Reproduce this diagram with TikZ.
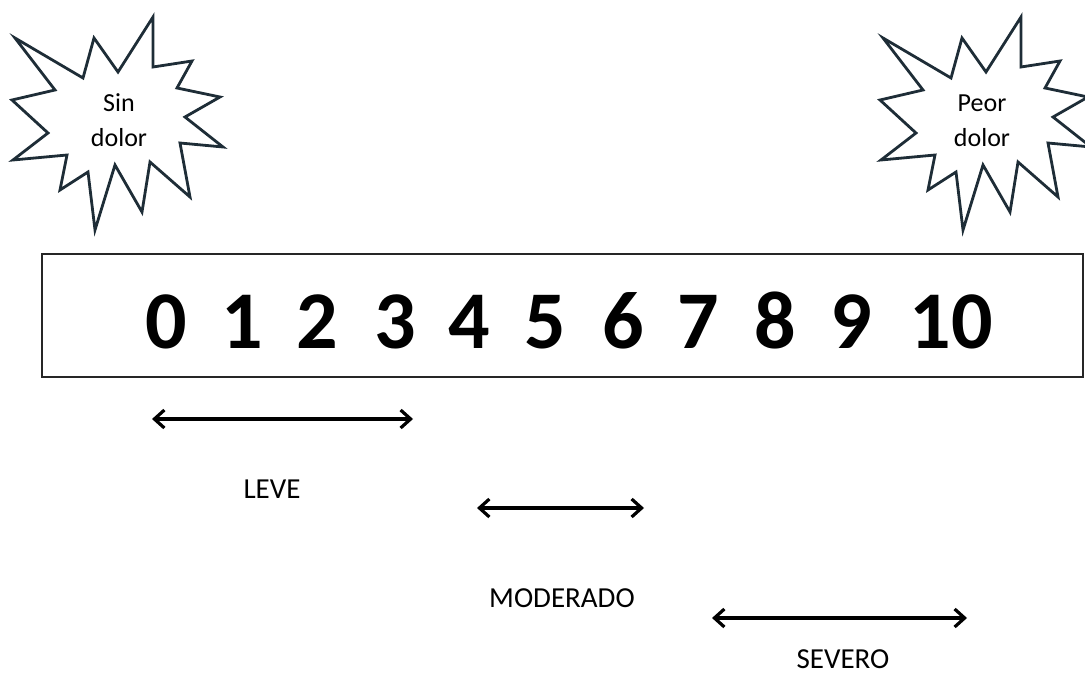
\documentclass[tikz,border=0pt]{standalone}
\usepackage{fontspec}
\setmainfont{Carlito}
\usetikzlibrary{arrows.meta}
\definecolor{starink}{RGB}{30,45,55}

\begin{document}
\begin{tikzpicture}[
    x=0.5pt, y=-0.5pt,
    starline/.style={starink, line width=1.4pt, line join=miter},
    scalebox/.style={black!85, line width=1.2pt},
    digit/.style={font=\fontsize{41}{41}\selectfont\bfseries, anchor=base, inner sep=0pt},
    startext/.style={font=\fontsize{13}{17.5}\selectfont, align=center, anchor=base, inner sep=0pt},
    lbl/.style={font=\fontsize{14.5}{14.5}\selectfont, anchor=base, inner sep=0pt},
    spanarrow/.style={black, line width=1.6pt, {Straight Barb[length=5pt,width=9pt]}-{Straight Barb[length=5pt,width=9pt]}}
]
\useasboundingbox (0,0) rectangle (1085,684);

% ---------- stars ----------
\foreach \sx in {0,868}
  \draw[starline, shift={(\sx,0)}] (15,38) -- (83,78) -- (94,38) -- (118,72) -- (153,17)
    -- (153,67) -- (192,61) -- (177,88) -- (220,97) -- (185,117) -- (223,147)
    -- (180,143) -- (190,197) -- (150,162) -- (142,212) -- (115,165) -- (95,230)
    -- (88,172) -- (60,190) -- (67,155) -- (13,160) -- (48,133) -- (12,100)
    -- (55,90) -- cycle;
\node[startext] (sin) at (119,147) {Sin\\dolor};
\node[startext] (peor) at (982,147) {Peor\\dolor};

% ---------- scale box ----------
\draw[scalebox] (42,254) rectangle (1083,377);
\foreach \n/\x in {0/166,1/242,2/317,3/395,4/469,5/545,6/623,7/698,8/775,9/851,10/951}
  \node[digit] (d\n) at (\x,348) {\n};

% ---------- ranges ----------
\coordinate (leveA) at (152,419);
\coordinate (leveB) at (413,419);
\coordinate (modA) at (477,508);
\coordinate (modB) at (644,508);
\coordinate (sevA) at (712,618);
\coordinate (sevB) at (967,618);
\draw[spanarrow] (leveA) -- (leveB);
\draw[spanarrow] (modA) -- (modB);
\draw[spanarrow] (sevA) -- (sevB);

% ---------- labels ----------
\node[lbl] (leve) at (272,498) {LEVE};
\node[lbl] (mod) at (562,607) {MODERADO};
\node[lbl] (sev) at (843,668) {SEVERO};

\end{tikzpicture}
\end{document}
